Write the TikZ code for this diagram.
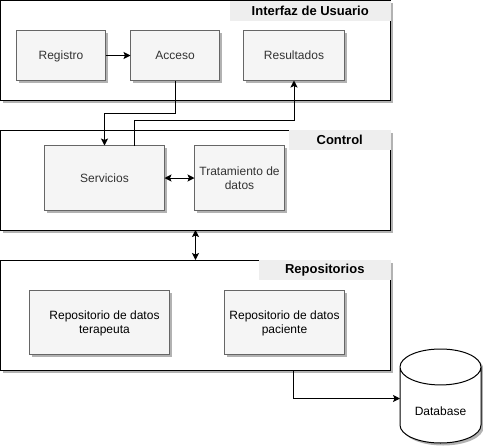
\documentclass[tikz,border=0pt]{standalone}
\usepackage{fontspec}
\setmainfont{Liberation Sans}
\usetikzlibrary{shapes.geometric, arrows.meta, positioning, calc, shadows}
\definecolor{cFill}{RGB}{245,245,245}
\definecolor{cEdge}{RGB}{102,102,102}
\definecolor{cText}{RGB}{51,51,51}
\definecolor{cTitle}{RGB}{238,238,238}
\tikzset{
    softshadow/.style={drop shadow={shadow xshift=2.5pt, shadow yshift=-2.5pt, fill=black, opacity=0.3}},
    panel/.style    ={rectangle, minimum width=390pt, inner sep=0pt, outer sep=0pt, draw=black, line width=1pt, fill=white, softshadow},
    paneltitle/.style={rectangle, minimum height=20pt, inner sep=0pt, outer sep=0pt, fill=cTitle, text=black, font=\fontsize{13}{15}\selectfont\bfseries},
    module/.style   ={rectangle, inner sep=0pt, outer sep=0pt, align=center, text depth=0pt, draw=cEdge, line width=1pt, fill=cFill, text=cText, softshadow, font=\fontsize{12}{14}\selectfont},
    database/.style ={cylinder, shape border rotate=90, aspect=0.7, minimum width=81pt, minimum height=94pt, inner sep=0pt, outer sep=0pt, draw=black, line width=1pt, fill=white, softshadow, font=\fontsize{12}{14}\selectfont},
    flowarrow/.style={-{Stealth[length=7pt, width=7pt, inset=1.5pt]}, line width=1pt},
    bothways/.style ={{Stealth[length=7pt, width=7pt, inset=1.5pt]}-{Stealth[length=7pt, width=7pt, inset=1.5pt]}, line width=1pt},
}
\begin{document}
\begin{tikzpicture}[x=1pt, y=1pt]
        \useasboundingbox (0,0) rectangle (483,-448);
        \node[panel, minimum height=99.5pt, anchor=north west] (ui) at (0.5,-0.5) {};
        \node[paneltitle, minimum width=160.5pt, anchor=north east] (uititle) at (ui.north east) {Interfaz de Usuario};
        \node[module, minimum width=89pt, minimum height=50pt, anchor=north west] (registro) at (16.5,-30.5) {Registro};
        \node[module, right=25pt of registro, minimum width=89pt, minimum height=50pt] (acceso) {Acceso};
        \node[module, right=24pt of acceso, minimum width=101pt, minimum height=50pt] (resultados) {Resultados};

        \node[panel, below=30pt of ui, minimum height=100pt] (control) {};
        \node[paneltitle, minimum width=101.5pt, anchor=north east] (controltitle) at (control.north east) {Control};
        \node[module, minimum width=120pt, minimum height=65pt, anchor=north west] (servicios) at (44.5,-145.5) {Servicios};
        \node[module, right=30pt of servicios, minimum width=90pt, minimum height=65pt] (tratamiento) {Tratamiento de\\datos};

        \node[panel, below=30pt of control, minimum height=110pt] (repos) {};
        \node[paneltitle, minimum width=131.5pt, anchor=north east] (repostitle) at (repos.north east) {Repositorios};
        \node[module, minimum width=140pt, minimum height=64pt, anchor=north west, text=black] (repoterapeuta) at (29.5,-290.5) {\hspace*{10pt}Repositorio de datos\\\hspace*{10pt}terapeuta};
        \node[module, right=55pt of repoterapeuta, minimum width=120pt, minimum height=64pt, text=black] (repopaciente) {Repositorio de datos\\paciente};

        \node[database, anchor=shape center] (db) at (440.5,-396) {\raisebox{-20pt}{Database}};

        \coordinate[right=30pt of servicios.north] (serviciosout);
        \coordinate[right=97.5pt of repos.south] (reposout);
        \coordinate[below left=2.5pt and 40.5pt of db.shape center] (dbin);

        \draw[flowarrow] (registro) -- (acceso);
        \draw[flowarrow] (acceso.south) -- ++(0,-32.5) -| (servicios.north);
        \draw[flowarrow] (serviciosout) -- ++(0,25) -| (resultados.south);
        \draw[bothways] (servicios) -- (tratamiento);
        \draw[bothways] (control.south) -- (repos.north);
        \draw[flowarrow] (reposout) |- (dbin);
    \end{tikzpicture}
\end{document}
